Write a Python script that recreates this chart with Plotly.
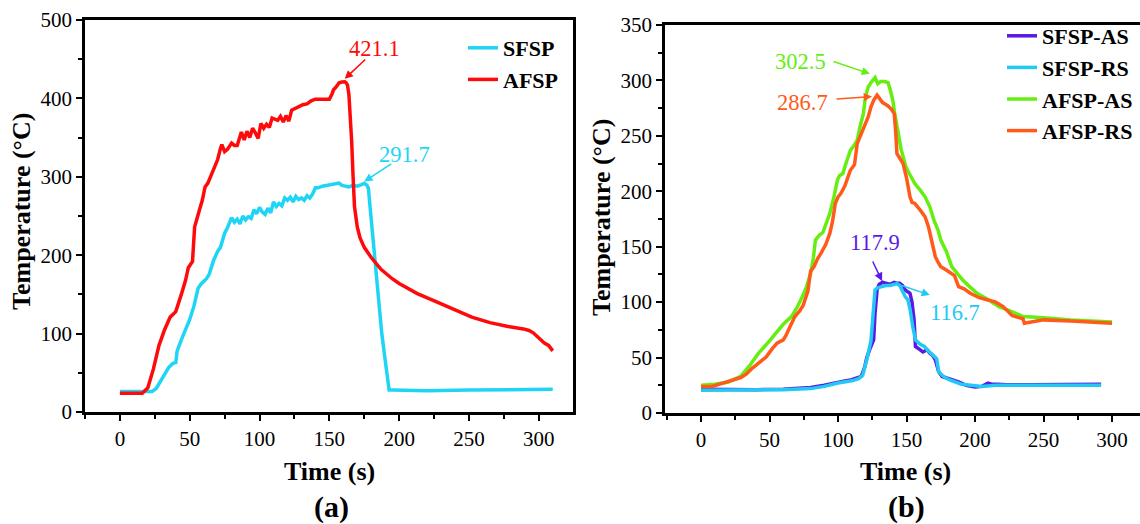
import plotly.graph_objects as go

# ---------------- data: panel (a) ----------------
t_afsp = [0, 16, 20, 24, 28, 32, 36, 40, 44, 47, 49, 52, 53.5, 55, 57, 59, 61, 63, 66, 68, 70, 72, 73, 75, 77,
          80, 82, 84, 87, 89, 91, 93, 95, 97, 99, 101, 103, 105, 107, 109, 111, 113, 115, 117, 119, 121, 123,
          125, 127, 129, 131, 134, 137, 140, 143, 146, 148, 150, 152, 153, 155, 157, 159, 161, 162, 163, 164,
          165, 166, 167, 168, 170, 172, 175, 180, 187, 195, 200, 213, 226, 240, 252, 265, 278, 289, 293, 296,
          299, 302, 304, 307, 310]
y_afsp = [24, 24, 31, 55, 85, 105, 121, 128, 150, 168, 184, 192, 236, 244, 258, 270, 287, 292, 305, 315, 322,
          336, 341, 332, 335, 343, 340, 340, 357, 347, 358, 350, 362, 356, 349, 368, 362, 367, 363, 375, 373,
          372, 377, 370, 378, 371, 385, 387, 389, 390, 392, 393, 397, 399, 399, 399, 400, 399, 406, 411, 415,
          420, 421, 421.1, 420, 417, 405, 380, 345, 300, 262, 236, 222, 210, 197, 182, 170, 164, 151, 141,
          130, 121, 114, 109, 106, 104, 101, 96, 92, 88, 85, 78]

t_sfsp = [0, 23, 26, 29, 32, 35, 38, 40, 41, 44, 47, 50, 53, 56, 58, 62, 64, 67, 70, 72, 75, 77, 80, 82, 84,
          86, 88, 90, 92, 94, 96, 98, 100, 102, 104, 106, 108, 110, 112, 114, 116, 118, 120, 122, 124, 126,
          128, 130, 132, 134, 136, 138, 140, 142, 145, 148, 151, 154, 157, 159, 161, 164, 167, 170, 173, 175,
          177, 178, 179.5, 181, 183.5, 186, 187.5, 190, 192.8, 195, 220, 250, 280, 310]
y_sfsp = [26, 26, 30, 38, 48, 57, 62, 63, 78, 92, 105, 118, 135, 158, 163, 170, 176, 193, 205, 210, 228, 235,
          248, 242, 246, 240, 250, 245, 249, 247, 258, 253, 261, 255, 252, 260, 254, 268, 262, 266, 263, 273,
          270, 274, 268, 275, 271, 273, 270, 276, 273, 278, 286, 286, 288, 289, 289, 290, 292, 289, 288, 287,
          289, 288, 290, 291.7, 289, 285, 255, 225, 185, 134, 101, 66, 28, 28, 27, 28, 28, 29]

# ---------------- data: panel (b) ----------------
t_sfsp_as = [0, 20, 40, 60, 80, 90, 100, 105, 110, 115, 117, 119.5, 121, 123, 126, 127, 128.5, 130, 132.5,
             135, 138, 141, 143, 145, 147, 149, 151, 152.5, 154, 155.5, 156.5, 158, 160, 162, 165, 167, 169,
             171, 173.5, 176, 180, 183, 188, 193.5, 200, 205, 209.5, 212, 216, 223, 240, 260, 292]
y_sfsp_as = [21.5, 21, 21, 21.5, 23, 25, 28, 29, 30, 32, 33, 41.7, 50, 57, 66, 90, 111, 116, 118, 117, 116,
             117.9, 117, 117, 115, 111, 109, 108, 100, 84, 60, 59, 57, 55, 57, 54, 52, 48, 37, 33, 31, 30, 28,
             25, 23.5, 24, 27, 26, 26, 25.5, 25.5, 25.5, 26]

t_sfsp_rs = [0, 20, 40, 60, 80, 90, 100, 105, 110, 115, 118, 121, 124, 127, 129, 132, 135, 138, 141, 143,
             145, 147, 149, 151, 152.5, 154.5, 156.5, 160, 163, 165, 168, 170, 172, 173.5, 177, 181, 186, 190,
             197, 205, 215, 230, 260, 292]
y_sfsp_rs = [20.5, 20.5, 20.5, 21, 22, 24, 27, 28, 29, 31, 34, 48, 65, 111, 113, 114, 115, 115, 116, 116.7,
             115, 110, 105, 102, 94, 78, 66, 62, 60, 57, 54, 51, 49, 37, 33, 30, 28, 26, 25, 24, 25, 25, 24.5, 25]

t_afsp_as = [0, 10, 20, 29, 35, 42, 50, 55, 60, 66, 70, 74, 77, 80, 82, 83.5, 86, 89, 92, 94, 97, 99.5, 101,
             103.5, 106, 109, 111, 114, 116, 118.5, 120, 122, 124, 126, 127, 129, 131, 134, 136.5, 138, 140,
             141, 143, 144.5, 146, 148, 149.5, 152, 156, 160, 163.5, 167, 170, 173, 175, 179, 183, 187, 191,
             196, 201.5, 210, 217.5, 226, 235, 250, 270, 300]
y_afsp_as = [25, 26, 28, 33, 42, 54, 65, 72, 80, 87, 95, 105, 114, 126, 140, 156, 160, 163, 172, 180, 195, 210,
             214, 216, 226, 237, 240, 246, 258, 270, 285, 294, 298, 301, 302.5, 297, 299, 299, 298, 292, 282,
             273, 258, 246, 238, 229, 222, 216, 207, 201, 195, 186, 174, 165, 156, 146, 132, 126, 120, 114, 108,
             102, 96, 92, 87, 86, 84, 82]

t_afsp_rs = [0, 8, 16, 22, 29, 33, 37, 42, 47.5, 52, 55.5, 60, 62, 65, 68.5, 72, 74.5, 78, 80, 82.5, 85, 87.5,
             91, 94, 96, 98, 100, 102, 105, 109, 112, 114, 117, 119.5, 122, 124, 126, 128.5, 130, 132.5, 134,
             136.5, 139, 141, 142, 143, 145, 147.5, 150, 152.5, 154, 156, 160, 163.5, 166, 168.5, 171, 173,
             175, 179, 183, 185, 188, 192, 196.5, 203, 209.5, 215, 220.5, 224, 227, 232, 235, 236, 250, 270, 300]
y_afsp_rs = [24, 24, 27, 29, 32, 35, 40, 45, 50.5, 58, 63, 66, 70, 78, 87, 92, 97, 110, 128, 132, 139, 144, 152,
             162, 173, 189, 195, 198, 205, 219, 224, 243, 252, 261, 267, 276, 282, 286.7, 284, 280, 279, 277,
             274, 270, 255, 234, 230, 225, 212, 195, 190, 189, 183, 177, 168, 156, 141, 136, 132, 129, 126, 124,
             114, 112, 108, 104, 102, 100, 96, 92, 88, 86, 85, 81, 84, 83, 81]

x_ticks = [0, 50, 100, 150, 200, 250, 300]
y_ticks_a = [0, 100, 200, 300, 400, 500]
y_ticks_b = [0, 50, 100, 150, 200, 250, 300, 350]

# ---------------- styling ----------------
FONT = "Liberation Serif"
C_SFSP = "#1FD5F6"
C_AFSP = "#FF0A0A"
C_SAS = "#5A1AE6"
C_SRS = "#22C9F4"
C_AAS = "#66EE11"
C_ARS = "#FF5A1A"
W = 1140
H = 524

fig = go.Figure()
fig.add_trace(go.Scatter(x=t_sfsp, y=y_sfsp, name="SFSP", mode="lines",
                         line=dict(color=C_SFSP, width=3.5), xaxis="x", yaxis="y", legend="legend"))
fig.add_trace(go.Scatter(x=t_afsp, y=y_afsp, name="AFSP", mode="lines",
                         line=dict(color=C_AFSP, width=3.5), xaxis="x", yaxis="y", legend="legend"))
fig.add_trace(go.Scatter(x=t_sfsp_as, y=y_sfsp_as, name="SFSP-AS", mode="lines",
                         line=dict(color=C_SAS, width=3.5), xaxis="x2", yaxis="y2", legend="legend2"))
fig.add_trace(go.Scatter(x=t_sfsp_rs, y=y_sfsp_rs, name="SFSP-RS", mode="lines",
                         line=dict(color=C_SRS, width=3.5), xaxis="x2", yaxis="y2", legend="legend2"))
fig.add_trace(go.Scatter(x=t_afsp_as, y=y_afsp_as, name="AFSP-AS", mode="lines",
                         line=dict(color=C_AAS, width=3.5), xaxis="x2", yaxis="y2", legend="legend2"))
fig.add_trace(go.Scatter(x=t_afsp_rs, y=y_afsp_rs, name="AFSP-RS", mode="lines",
                         line=dict(color=C_ARS, width=3.5), xaxis="x2", yaxis="y2", legend="legend2"))

tickfont = dict(family=FONT, size=21, color="black")
common = dict(showline=True, linecolor="black", linewidth=2.5, ticks="outside", ticklen=6, tickwidth=2,
              tickcolor="black", showgrid=False, zeroline=False, tickfont=tickfont, automargin=False)

fig.update_layout(
    width=W, height=H,
    margin=dict(l=0, r=0, t=0, b=0, autoexpand=False),
    paper_bgcolor="white", plot_bgcolor="white",
    xaxis=dict(domain=[85 / W, 573 / W], range=[-25, 324.5], tickvals=x_ticks, mirror=True, anchor="y",
               minor=dict(ticks="outside", ticklen=4, tickwidth=2, tickcolor="black", tick0=25, dtick=50),
               **common),
    yaxis=dict(domain=[1 - 412 / H, 1 - 20 / H], range=[0, 500], tickvals=y_ticks_a, mirror=True, anchor="x",
               minor=dict(ticks="outside", ticklen=4, tickwidth=2, tickcolor="black", tick0=50, dtick=100),
               **common),
    xaxis2=dict(domain=[665 / W, 1.0], range=[-26.3, 320.4], tickvals=x_ticks, mirror=True, anchor="y2",
                minor=dict(ticks="outside", ticklen=4, tickwidth=2, tickcolor="black", tick0=25, dtick=50),
                **common),
    yaxis2=dict(domain=[1 - 413 / H, 1 - 25 / H], range=[0, 350], tickvals=y_ticks_b, mirror=False,
                anchor="x2",
                minor=dict(ticks="outside", ticklen=4, tickwidth=2, tickcolor="black", tick0=25, dtick=50),
                **common),
    legend=dict(x=463 / W, y=1 - 27 / H, xanchor="left", yanchor="top", bgcolor="rgba(0,0,0,0)",
                font=dict(family=FONT, size=22, color="black", weight="bold"), tracegroupgap=0,
                itemwidth=30),
    legend2=dict(x=1002 / W, y=1 - 15 / H, xanchor="left", yanchor="top", bgcolor="rgba(0,0,0,0)",
                 font=dict(family=FONT, size=22, color="black", weight="bold"), tracegroupgap=0,
                 itemwidth=30),
    showlegend=True,
)

annotations = []


def title(text, x, y, size, angle=0):
    annotations.append(dict(text=text, x=x / W, y=1 - y / H, xref="paper", yref="paper", showarrow=False,
                            xanchor="center", yanchor="middle", textangle=angle,
                            font=dict(family=FONT, size=size, color="black", weight="bold")))


title("Time (s)", 329, 471, 26)
title("(a)", 331, 507, 30)
title("Time (s)", 905, 471, 26)
title("(b)", 906, 507, 30)
title("Temperature (°C)", 21, 212, 26, -90)
title("Temperature (°C)", 602, 218, 26, -90)


def callout(text, color, xr, yr, tx, ty, tail, head):
    annotations.append(dict(text=text, x=tx, y=ty, xref=xr, yref=yr, showarrow=False,
                            xanchor="center", yanchor="middle",
                            font=dict(family=FONT, size=22.5, color=color)))
    annotations.append(dict(text="", x=head[0], y=head[1], ax=tail[0], ay=tail[1], xref=xr, yref=yr,
                            axref=xr, ayref=yr, showarrow=True, arrowhead=2, arrowsize=1.1,
                            arrowwidth=1.5, arrowcolor=color))


callout("421.1", C_AFSP, "x", "y", 182, 464, (176.8, 451.5), (161, 425))
callout("291.7", C_SFSP, "x", "y", 204, 329, (195.4, 317.6), (175, 294))
callout("302.5", C_AAS, "x2", "y2", 72.3, 317, (95.6, 317.5), (123.3, 306))
callout("286.7", C_ARS, "x2", "y2", 73.7, 280.5, (97.8, 283.2), (124.8, 285.5))
callout("117.9", C_SAS, "x2", "y2", 127, 154, (124.8, 138), (132.1, 119))
callout("116.7", C_SRS, "x2", "y2", 185.4, 91, (145.2, 115.5), (167, 106.4))

fig.update_layout(annotations=annotations)

fig.write_html("out.html")
